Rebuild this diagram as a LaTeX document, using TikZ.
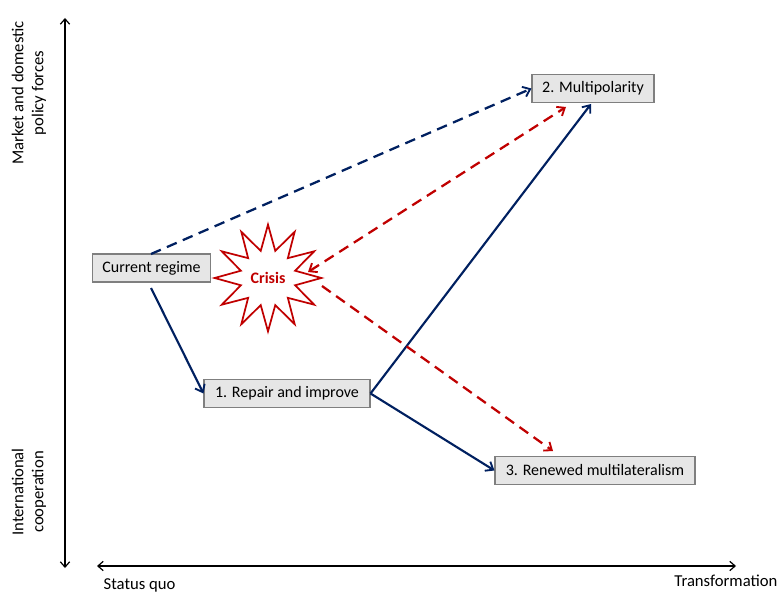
\documentclass[tikz,border=0pt]{standalone}
\usepackage{fontspec}
\setmainfont{Carlito}
\usetikzlibrary{arrows.meta,shapes.geometric}
\definecolor{navy}{HTML}{002060}
\definecolor{crimson}{HTML}{C00000}
\definecolor{boxfill}{HTML}{E6E6E6}
\definecolor{boxline}{HTML}{7F7F7F}
\begin{document}
\begin{tikzpicture}[x=0.75pt,y=-0.75pt,
  scen/.style={draw=boxline,fill=boxfill,line width=0.8pt,inner sep=0pt,font=\fontsize{12}{14}\selectfont},
  axis/.style={line width=0.9pt,{Straight Barb[length=4pt,width=7pt]}-{Straight Barb[length=4pt,width=7pt]}},
  lab/.style={font=\fontsize{12.5}{15}\selectfont,align=center},
  tip/.style={-{Straight Barb[length=5pt,width=8pt,line width=1.4pt]}},
  solidnavy/.style={draw=navy,line width=1.6pt,tip},
  dashnavy/.style={draw=navy,line width=1.7pt,dash pattern=on 8pt off 5pt,tip},
  dashred/.style={draw=crimson,line width=1.7pt,dash pattern=on 8pt off 5pt,tip}]
\useasboundingbox (0,0) rectangle (779,592);
% axes
\coordinate (ytop) at (65,18);
\coordinate (ybot) at (65,568);
\coordinate (xl) at (97,566);
\coordinate (xr) at (736,566);
\draw[axis] (ybot) -- (ytop);
\draw[axis] (xl) -- (xr);
\node[lab,rotate=90] (ltop) at (29,93) {Market and domestic\\policy forces};
\node[lab,rotate=90] (lbot) at (29,492) {International\\cooperation};
\node[lab,anchor=west] (sq) at (99,585) {Status quo};
\node[lab,anchor=east,inner xsep=1pt] (tr) at (779,581) {Transformation};
% scenario boxes
\node[scen,minimum width=89pt,minimum height=21pt] (cur) at (151.5,268) {Current regime};
\node[scen,minimum width=91.5pt,minimum height=21.5pt] (multi) at (593,88.5) {2. Multipolarity};
\node[scen,minimum width=124.5pt,minimum height=21.5pt] (rep) at (287,393.5) {1. Repair and improve};
\node[scen,minimum width=150pt,minimum height=21.5pt] (ren) at (595,470.5) {3. Renewed multilateralism};
% crisis
\node[star,star points=12,star point ratio=1.9,draw=crimson,line width=1.3pt,
  minimum size=80pt,inner sep=0pt,font=\fontsize{12}{14}\selectfont\bfseries,text=crimson] (crisis) at (268,278) {Crisis};
% connector end points
\coordinate (c1) at (308,272);
\coordinate (c2) at (322,286);
\coordinate (m1) at (566,107);
\coordinate (r1) at (553,451);
\coordinate (curT) at (151,254);
\coordinate (curB) at (151,288);
\coordinate (multB) at (591,104);
% arrows
\draw[dashnavy] (curT) -- (multi.west);
\draw[solidnavy] (curB) -- (rep.west);
\draw[solidnavy] (rep.east) -- (multB);
\draw[solidnavy] (rep.east) -- (ren.west);
\draw[dashred,{Straight Barb[length=5pt,width=8pt,line width=1.4pt]}-{Straight Barb[length=5pt,width=8pt,line width=1.4pt]}] (c1) -- (m1);
\draw[dashred] (c2) -- (r1);
\end{tikzpicture}
\end{document}
